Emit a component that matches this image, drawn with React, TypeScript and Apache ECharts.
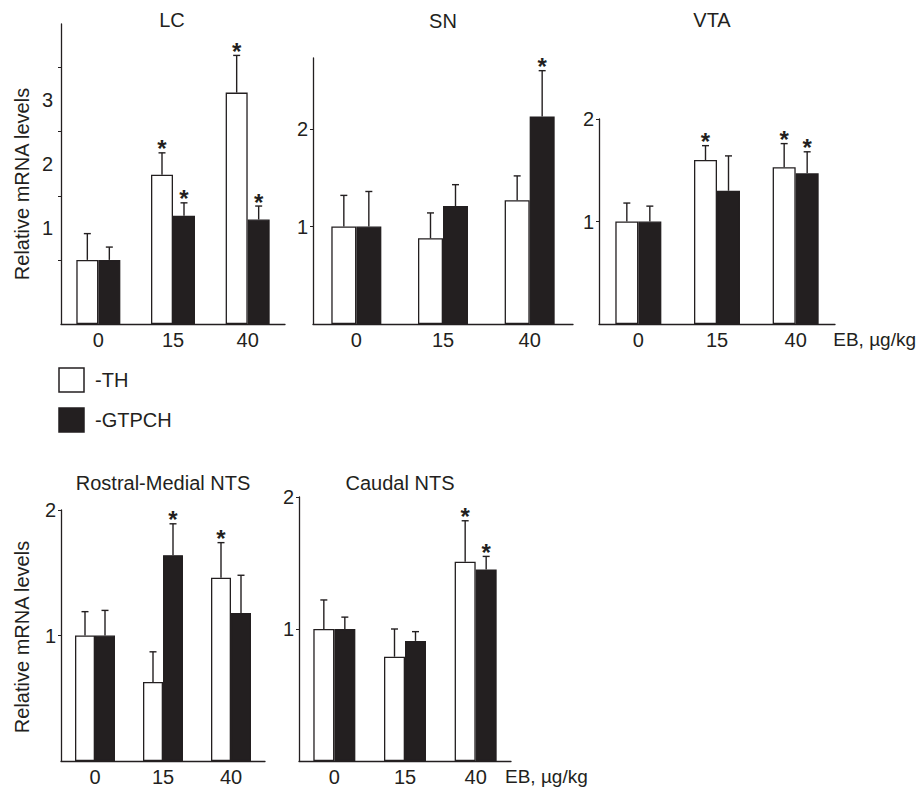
import React, { useEffect, useRef } from "react";
import * as echarts from "echarts";

// ---------- data ----------
const CATEGORIES = ["0", "15", "40"];
const SERIES_NAMES = ["-TH", "-GTPCH"];
const PANEL_TITLES = ["LC", "SN", "VTA", "Rostral-Medial NTS", "Caudal NTS"];

const LC_TH = [1.0, 2.33, 3.61];
const LC_TH_SEM = [0.41, 0.34, 0.58];
const LC_GT = [1.0, 1.69, 1.63];
const LC_GT_SEM = [0.2, 0.2, 0.21];
const LC_TH_SIG = [false, true, true];
const LC_GT_SIG = [false, true, true];

const SN_TH = [1.0, 0.88, 1.27];
const SN_TH_SEM = [0.32, 0.26, 0.25];
const SN_GT = [1.0, 1.21, 2.13];
const SN_GT_SEM = [0.36, 0.22, 0.47];
const SN_TH_SIG = [false, false, false];
const SN_GT_SIG = [false, false, true];

const VTA_TH = [1.0, 1.6, 1.53];
const VTA_TH_SEM = [0.18, 0.14, 0.23];
const VTA_GT = [1.0, 1.3, 1.47];
const VTA_GT_SEM = [0.15, 0.34, 0.21];
const VTA_TH_SIG = [false, true, true];
const VTA_GT_SIG = [false, false, true];

const RM_TH = [1.0, 0.63, 1.46];
const RM_TH_SEM = [0.19, 0.24, 0.28];
const RM_GT = [1.0, 1.64, 1.18];
const RM_GT_SEM = [0.2, 0.25, 0.3];
const RM_TH_SIG = [false, false, true];
const RM_GT_SIG = [false, true, false];

const CA_TH = [1.0, 0.79, 1.51];
const CA_TH_SEM = [0.22, 0.21, 0.31];
const CA_GT = [1.0, 0.91, 1.45];
const CA_GT_SEM = [0.09, 0.07, 0.1];
const CA_TH_SIG = [false, false, true];
const CA_GT_SIG = [false, false, true];

// y-axis extents and ticks
const Y_MAX = [4.68, 2.73, 2, 2, 2];
const LC_TICKS = [1, 2, 3, 4];
const LC_LABELS = [1, 2, 3];
const LC_LABEL_SHIFT = 0.5; // labels in the original sit half a unit above the ticks
const OTHER_TICKS = [1, 2];

const X_UNIT = "EB, µg/kg";
const Y_NAME = "Relative mRNA levels";

// ---------- style ----------
const INK = "#231f20";
const FONT = "'Liberation Sans', Arial, Helvetica, sans-serif";
const FS = 20;

const GRIDS = [
  { left: 61, top: 24, width: 224, height: 300 },
  { left: 313, top: 58, width: 260, height: 266 },
  { left: 599, top: 119, width: 236, height: 205 },
  { left: 61, top: 510, width: 204, height: 251 },
  { left: 299, top: 497, width: 212, height: 264 },
];
const BAR_W = [22, 25, 23, 20, 21];

const PANELS = [
  { th: LC_TH, thSem: LC_TH_SEM, gt: LC_GT, gtSem: LC_GT_SEM, thSig: LC_TH_SIG, gtSig: LC_GT_SIG },
  { th: SN_TH, thSem: SN_TH_SEM, gt: SN_GT, gtSem: SN_GT_SEM, thSig: SN_TH_SIG, gtSig: SN_GT_SIG },
  { th: VTA_TH, thSem: VTA_TH_SEM, gt: VTA_GT, gtSem: VTA_GT_SEM, thSig: VTA_TH_SIG, gtSig: VTA_GT_SIG },
  { th: RM_TH, thSem: RM_TH_SEM, gt: RM_GT, gtSem: RM_GT_SEM, thSig: RM_TH_SIG, gtSig: RM_GT_SIG },
  { th: CA_TH, thSem: CA_TH_SEM, gt: CA_GT, gtSem: CA_GT_SEM, thSig: CA_TH_SIG, gtSig: CA_GT_SIG },
];

function buildOption() {
  const grid = GRIDS.map((g) => ({ ...g, containLabel: false }));

  const xAxis = GRIDS.map((_, i) => ({
    type: "category",
    gridIndex: i,
    data: CATEGORIES,
    axisLine: { show: true, lineStyle: { color: INK, width: 1.3 } },
    axisTick: { show: false },
    axisLabel: { color: INK, fontSize: FS, fontFamily: FONT, margin: 6 },
    splitLine: { show: false },
  }));

  const yAxis: any[] = GRIDS.map((_, i) => ({
    type: "value",
    gridIndex: i,
    min: 0,
    max: Y_MAX[i],
    axisLine: { show: true, lineStyle: { color: INK, width: 1.3 } },
    axisTick: {
      show: true,
      inside: false,
      length: 3,
      lineStyle: { color: INK, width: 1 },
      customValues: i === 0 ? LC_TICKS : OTHER_TICKS,
    },
    axisLabel: {
      show: i !== 0,
      color: INK,
      fontSize: FS,
      fontFamily: FONT,
      margin: 5,
      customValues: OTHER_TICKS,
    },
    splitLine: { show: false },
  }));
  // label-only axis for LC (labels are offset from the ticks in the original)
  yAxis.push({
    type: "value",
    gridIndex: 0,
    position: "left",
    min: -LC_LABEL_SHIFT,
    max: Y_MAX[0] - LC_LABEL_SHIFT,
    axisLine: { show: false },
    axisTick: { show: false },
    axisLabel: {
      show: true,
      color: INK,
      fontSize: FS,
      fontFamily: FONT,
      margin: 8,
      customValues: LC_LABELS,
    },
    splitLine: { show: false },
  });

  const series: any[] = [];
  PANELS.forEach((p, i) => {
    series.push({
      type: "bar",
      name: SERIES_NAMES[0],
      xAxisIndex: i,
      yAxisIndex: i,
      data: p.th,
      barWidth: BAR_W[i],
      barGap: "0%",
      itemStyle: { color: "#ffffff", borderColor: INK, borderWidth: 1.3 },
      z: 2,
    });
    series.push({
      type: "bar",
      name: SERIES_NAMES[1],
      xAxisIndex: i,
      yAxisIndex: i,
      data: p.gt,
      barWidth: BAR_W[i],
      barGap: "0%",
      itemStyle: { color: INK, borderColor: INK, borderWidth: 1.3 },
      z: 2,
    });
    const errData: number[][] = [];
    p.th.forEach((v, k) => errData.push([k, v, v + p.thSem[k], p.thSig[k] ? 1 : 0, -1]));
    p.gt.forEach((v, k) => errData.push([k, v, v + p.gtSem[k], p.gtSig[k] ? 1 : 0, 1]));
    const bw = BAR_W[i];
    series.push({
      type: "custom",
      xAxisIndex: i,
      yAxisIndex: i,
      data: errData,
      z: 5,
      silent: true,
      encode: { x: 0, y: [1, 2] },
      renderItem: (params: any, api: any) => {
        const ci = api.value(0);
        const mean = api.value(1);
        const top = api.value(2);
        const sig = api.value(3);
        const side = api.value(4);
        const p0 = api.coord([ci, mean]);
        const p1 = api.coord([ci, top]);
        const x = p0[0] + (side * bw) / 2;
        const children: any[] = [
          {
            type: "line",
            shape: { x1: x, y1: p0[1], x2: x, y2: p1[1] },
            style: { stroke: INK, lineWidth: 1.4 },
          },
          {
            type: "line",
            shape: { x1: x - 3.5, y1: p1[1], x2: x + 3.5, y2: p1[1] },
            style: { stroke: INK, lineWidth: 1.4 },
          },
        ];
        if (sig) {
          children.push({
            type: "text",
            style: {
              text: "*",
              x: x,
              y: p1[1] - 4,
              textAlign: "center",
              textVerticalAlign: "middle",
              verticalAlign: "middle",
              fill: INK,
              font: `bold 24px ${FONT}`,
            },
          });
        }
        return { type: "group", children };
      },
    });
  });

  const titlePos = [
    [172, 20],
    [443, 21],
    [712, 20],
    [163, 483],
    [400, 483],
  ];
  const graphic: any[] = PANEL_TITLES.map((t, i) => ({
    type: "text",
    x: titlePos[i][0],
    y: titlePos[i][1],
    style: {
      text: t,
      fill: INK,
      font: `${FS}px ${FONT}`,
      textAlign: "center",
      textVerticalAlign: "middle",
      verticalAlign: "middle",
    },
  }));
  // x-axis unit labels
  graphic.push({
    type: "text",
    x: 916,
    y: 339,
    style: { text: X_UNIT, fill: INK, font: `19px ${FONT}`, textAlign: "right", verticalAlign: "middle", textVerticalAlign: "middle" },
  });
  graphic.push({
    type: "text",
    x: 505,
    y: 776,
    style: { text: X_UNIT, fill: INK, font: `19px ${FONT}`, textAlign: "left", verticalAlign: "middle", textVerticalAlign: "middle" },
  });
  // y-axis names
  [
    [22, 184],
    [22, 637],
  ].forEach(([x, y]) =>
    graphic.push({
      type: "text",
      x,
      y,
      rotation: Math.PI / 2,
      style: { text: Y_NAME, fill: INK, font: `${FS}px ${FONT}`, textAlign: "center", verticalAlign: "middle", textVerticalAlign: "middle" },
    })
  );
  // legend
  graphic.push({
    type: "rect",
    shape: { x: 59, y: 368, width: 25, height: 24 },
    style: { fill: "#ffffff", stroke: INK, lineWidth: 1.5 },
  });
  graphic.push({
    type: "rect",
    shape: { x: 59, y: 408, width: 25, height: 24 },
    style: { fill: INK, stroke: INK, lineWidth: 1.5 },
  });
  graphic.push({
    type: "text",
    x: 95,
    y: 380,
    style: { text: SERIES_NAMES[0], fill: INK, font: `${FS}px ${FONT}`, textAlign: "left", verticalAlign: "middle", textVerticalAlign: "middle" },
  });
  graphic.push({
    type: "text",
    x: 95,
    y: 420,
    style: { text: SERIES_NAMES[1], fill: INK, font: `${FS}px ${FONT}`, textAlign: "left", verticalAlign: "middle", textVerticalAlign: "middle" },
  });

  return {
    animation: false,
    backgroundColor: "#ffffff",
    textStyle: { fontFamily: FONT },
    grid,
    xAxis,
    yAxis,
    series,
    graphic,
  };
}

export default function App() {
  const ref = useRef<HTMLDivElement>(null);
  useEffect(() => {
    if (!ref.current) return;
    const chart = echarts.init(ref.current, undefined, { renderer: "svg" });
    chart.setOption(buildOption() as any);
    return () => chart.dispose();
  }, []);
  return (
    <div
      ref={ref}
      style={{ position: "fixed", left: 0, top: 0, width: 919, height: 788, background: "#fff" }}
    />
  );
}
